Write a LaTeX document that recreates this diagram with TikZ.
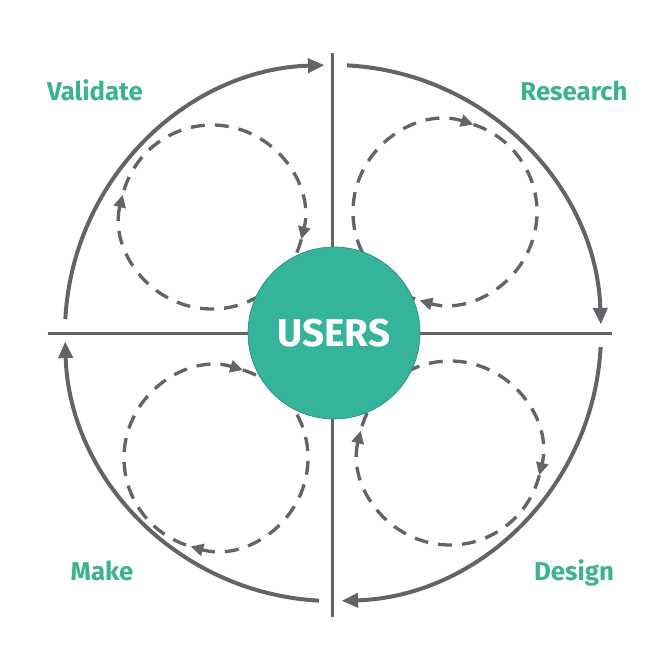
\documentclass[tikz,border=0pt]{standalone}
\usepackage{fontspec}
\setmainfont{Fira Sans}
\usetikzlibrary{arrows.meta}
\definecolor{loopgray}{HTML}{646468}
\definecolor{userteal}{HTML}{35B39B}
\definecolor{labelteal}{HTML}{3DB28F}

\begin{document}
\begin{tikzpicture}[x=0.3mm,y=0.3mm,
    outer/.style={loopgray,line width=1.2mm,-{Triangle[length=5mm,width=4.2mm]}},
    axis/.style={loopgray,line width=0.9mm},
    inner/.style={loopgray,line width=1mm,dash pattern=on 4.2mm off 3mm,-{Triangle[length=3.8mm,width=3.6mm]}},
    phase/.style={labelteal,font=\bfseries\fontsize{22}{26}\selectfont,anchor=base}]
  \useasboundingbox (-333,-335) rectangle (335,333);
  % two axes
  \draw[axis] (0,280) -- (0,-284);
  \draw[axis] (-285,0) -- (279,0);
  % four outer arcs
  \draw[outer] (87:268) arc[start angle=87,end angle=1.8,radius=268];
  \draw[outer] (-3:268) arc[start angle=-3,end angle=-88.2,radius=268];
  \draw[outer] (-93:268) arc[start angle=-93,end angle=-178.2,radius=268];
  \draw[outer] (177:268) arc[start angle=177,end angle=91.8,radius=268];
  % four dashed loops
  \draw[inner] (-121,116) ++(-14:92) arc[start angle=-14,end angle=-194,radius=92];
  \draw[inner] (-121,116) ++(163:92) arc[start angle=163,end angle=-14,radius=92];
  \draw[inner] (112,121) ++(72:92) arc[start angle=72,end angle=-106,radius=92];
  \draw[inner] (112,121) ++(-109:92) arc[start angle=-109,end angle=-288,radius=92];
  \draw[inner] (-117,-125) ++(73:92) arc[start angle=73,end angle=-106,radius=92];
  \draw[inner] (-117,-125) ++(-109:92) arc[start angle=-109,end angle=-287,radius=92];
  \draw[inner] (117,-120) ++(-14:92) arc[start angle=-14,end angle=-194,radius=92];
  \draw[inner] (117,-120) ++(163:92) arc[start angle=163,end angle=-14,radius=92];
  % users in the middle
  \node[circle,fill=userteal,draw=userteal!80!black,line width=0.2mm,minimum size=51.6mm,
    text=white,font=\bfseries\fontsize{33}{37}\selectfont] (users) at (1,0) {USERS};
  % phase labels
  \node[phase] (validate) at (-238,232) {Validate};
  \node[phase] (research) at (241,232) {Research};
  \node[phase] (make) at (-231,-247) {Make};
  \node[phase] (design) at (241,-247) {Design};
\end{tikzpicture}
\end{document}
